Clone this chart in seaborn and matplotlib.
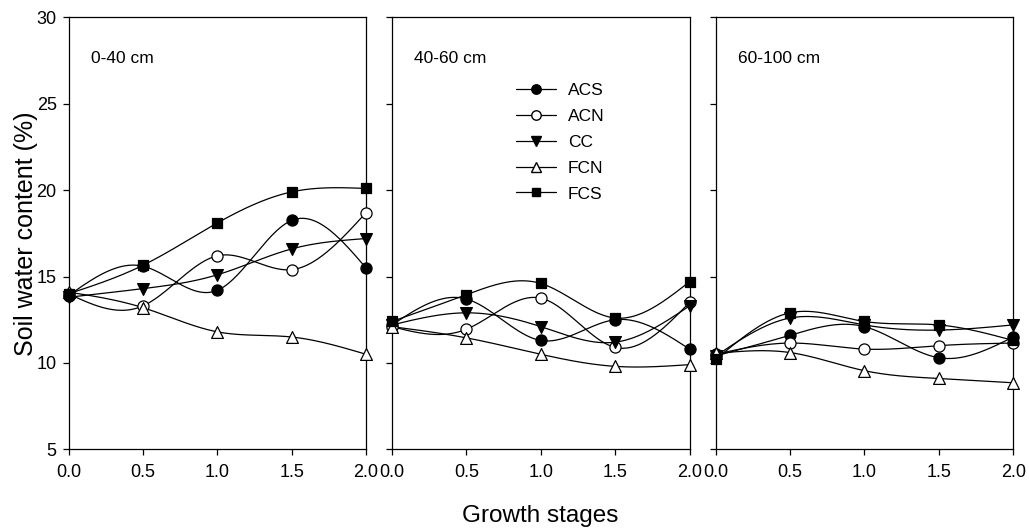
import numpy as np
import pandas as pd
import matplotlib
matplotlib.use("Agg")
import matplotlib.pyplot as plt
import seaborn as sns
from matplotlib.lines import Line2D

sns.set_theme(style='white')
plt.rcParams['font.family'] = ['Liberation Sans', 'DejaVu Sans']
plt.rcParams['text.color'] = 'black'
plt.rcParams['axes.labelcolor'] = 'black'

stages = [0.0, 0.5, 1.0, 1.5, 2.0]
treatments = ['ACS', 'ACN', 'CC', 'FCN', 'FCS']
depths = ['0-40 cm', '40-60 cm', '60-100 cm']

# soil water content (%) per depth layer
acs = [[13.9, 15.6, 14.2, 18.25, 15.5],
       [12.2, 13.7, 11.3, 12.5, 10.8],
       [10.4, 11.6, 12.1, 10.3, 11.5]]
acn = [[14.0, 13.3, 16.2, 15.4, 18.7],
       [12.1, 11.95, 13.75, 10.9, 13.5],
       [10.5, 11.15, 10.8, 11.0, 11.15]]
cc = [[13.8, 14.3, 15.1, 16.6, 17.2],
      [12.2, 12.9, 12.1, 11.2, 13.3],
      [10.4, 12.6, 12.2, 11.9, 12.2]]
fcn = [[14.1, 13.2, 11.8, 11.5, 10.5],
       [12.1, 11.45, 10.5, 9.8, 9.9],
       [10.55, 10.6, 9.55, 9.1, 8.85]]
fcs = [[14.0, 15.65, 18.1, 19.9, 20.1],
       [12.4, 13.95, 14.6, 12.6, 14.7],
       [10.2, 12.9, 12.4, 12.2, 11.3]]

series = dict(zip(treatments, [acs, acn, cc, fcn, fcs]))

rows = []
for name, vals in series.items():
    for d, depth in enumerate(depths):
        for s, v in zip(stages, vals[d]):
            rows.append({'treatment': name, 'depth': depth, 'stage': s, 'swc': v})
df = pd.DataFrame(rows)

style = {
    'ACS': dict(marker='o', face='black', ms=8),
    'ACN': dict(marker='o', face='white', ms=8),
    'CC': dict(marker='v', face='black', ms=8.5),
    'FCN': dict(marker='^', face='white', ms=8.5),
    'FCS': dict(marker='s', face='black', ms=7.5),
}


def spline(x, y, n=200):
    # natural cubic spline, used only to draw the smooth connecting curve
    x = np.asarray(x, float)
    y = np.asarray(y, float)
    k = len(x)
    h = np.diff(x)
    A = np.zeros((k, k))
    b = np.zeros(k)
    A[0, 0] = A[-1, -1] = 1
    for i in range(1, k - 1):
        A[i, i - 1] = h[i - 1]
        A[i, i] = 2 * (h[i - 1] + h[i])
        A[i, i + 1] = h[i]
        b[i] = 6 * ((y[i + 1] - y[i]) / h[i] - (y[i] - y[i - 1]) / h[i - 1])
    m = np.linalg.solve(A, b)
    xs = np.linspace(x[0], x[-1], n)
    idx = np.clip(np.searchsorted(x, xs) - 1, 0, k - 2)
    x0, x1 = x[idx], x[idx + 1]
    hh = x1 - x0
    t0, t1 = x1 - xs, xs - x0
    ys = (m[idx] * t0 ** 3 / (6 * hh) + m[idx + 1] * t1 ** 3 / (6 * hh)
          + (y[idx] / hh - m[idx] * hh / 6) * t0
          + (y[idx + 1] / hh - m[idx + 1] * hh / 6) * t1)
    return xs, ys


fig = plt.figure(figsize=(10.29, 5.29), dpi=100)
lefts = [0.0666, 0.381, 0.6955]
axes = [fig.add_axes([l, 0.1507, 0.2891, 0.8163]) for l in lefts]

for i, (ax, depth) in enumerate(zip(axes, depths)):
    sub = df[df['depth'] == depth]
    for name in treatments:
        d = sub[sub['treatment'] == name]
        xs, ys = spline(d['stage'], d['swc'])
        ax.plot(xs, ys, color='black', lw=0.9, zorder=2)
        st = style[name]
        sns.scatterplot(x='stage', y='swc', data=d, ax=ax, marker=st['marker'],
                        s=st['ms'] ** 2, color=st['face'], edgecolor='black',
                        linewidth=0.9, zorder=3, legend=False, clip_on=False)
    ax.set_xlim(0, 2)
    ax.set_ylim(5, 30)
    ax.set_xticks(stages)
    ax.set_xticklabels([f'{s:.1f}' for s in stages])
    ax.set_yticks(range(5, 31, 5))
    ax.tick_params(direction='out', length=4.5, width=0.9, colors='black',
                   labelsize=13, bottom=True, left=True, pad=4)
    ax.tick_params(axis='x', pad=6)
    if i > 0:
        ax.set_yticklabels([])
    ax.set_xlabel('')
    ax.set_ylabel('')
    for sp in ax.spines.values():
        sp.set_color('black')
        sp.set_linewidth(0.9)
    ax.text(0.075, 0.905, depth, transform=ax.transAxes, fontsize=12.5,
            ha='left', va='center', color='black')

axes[0].set_ylabel('Soil water content (%)', fontsize=18, labelpad=-1, color='black')
fig.text(0.525, 0.025, 'Growth stages', ha='center', va='center', fontsize=17.5,
         color='black')

handles = [Line2D([0], [0], color='black', lw=0.9, marker=style[n]['marker'],
                  markerfacecolor=style[n]['face'], markeredgecolor='black',
                  markersize=style[n]['ms'] * 0.85) for n in treatments]
leg = axes[1].legend(handles, treatments, loc='upper left', bbox_to_anchor=(0.387, 0.869),
                     frameon=False, fontsize=12.5, handlelength=2.3, labelspacing=0.62,
                     handletextpad=0.7, borderpad=0)
for t in leg.get_texts():
    t.set_color('black')

fig.savefig('out.png', dpi=100)
